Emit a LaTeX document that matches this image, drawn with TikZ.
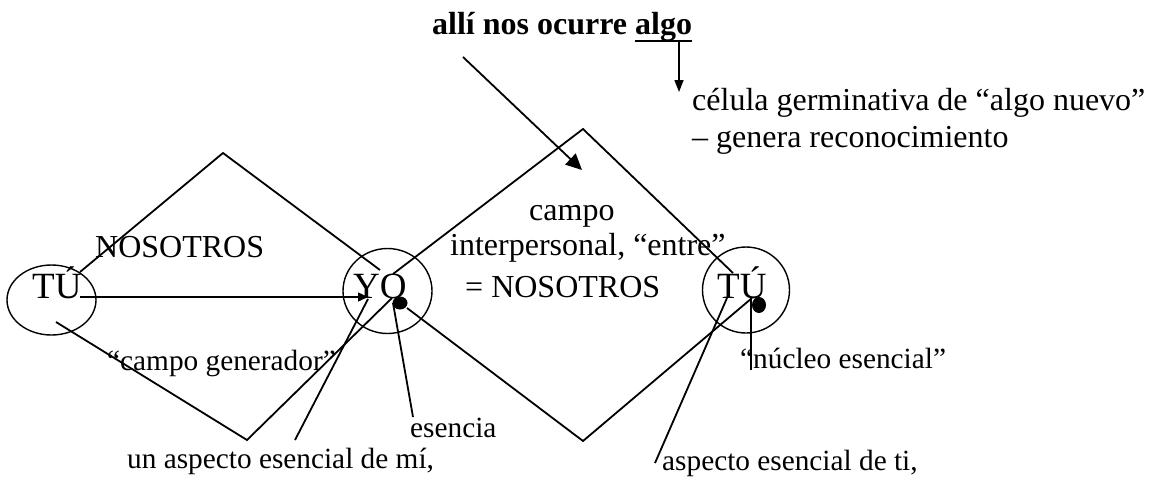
\documentclass[tikz,border=0pt]{standalone}
\usepackage{fontspec}
\setmainfont{Liberation Serif}
\usetikzlibrary{arrows.meta,shapes.geometric}
\newcommand\fA{\fontsize{32}{38}\selectfont}
\newcommand\fB{\fontsize{29.3}{35}\selectfont}
\newcommand\fC{\fontsize{37}{44}\selectfont}
\begin{document}
\begin{tikzpicture}[x=1pt,y=-1pt,
  ln/.style={line width=1.8pt},
  ring/.style={draw,ellipse,line width=1.4pt,inner sep=0pt},
  dotn/.style={fill,ellipse,inner sep=0pt,minimum width=15pt,minimum height=13pt},
  txt/.style={anchor=base west,inner sep=0pt,font=\fA},
  sml/.style={anchor=base west,inner sep=0pt,font=\fB},
  big/.style={anchor=base west,inner sep=0pt,font=\fC},
  arr/.style={-{Triangle[length=10pt,width=9pt]},line width=1.4pt},
  bigarr/.style={-{Triangle[length=16pt,width=15pt]},line width=1.8pt},
]
\useasboundingbox (0,0) rectangle (1151,477);

% circles
\node[ring,minimum width=89pt,minimum height=70pt] (tu1) at (51.5,300) {};
\node[ring,minimum width=89pt,minimum height=85pt] (yo) at (387.5,291) {};
\node[ring,minimum width=87pt,minimum height=86pt] (tu2) at (746,290) {};

% circle texts
\node[big] (tuL) at (32,298) {TÚ};
\node[big] (yoL) at (353,298) {YO};
\node[big] (tuR) at (717,298) {TÚ};

% dots
\node[dotn] (dyo) at (400,303) {};
\node[dotn,minimum width=14pt,minimum height=16pt] (dtu) at (759,305) {};

% diamond corners
\coordinate (a1) at (80,272);
\coordinate (a2) at (223,153);
\coordinate (a3) at (380,270);
\coordinate (a4) at (56,322);
\coordinate (a5) at (247,440);
\coordinate (a6) at (392,298);
\coordinate (b1) at (393,274);
\coordinate (b2) at (583,129);
\coordinate (b3) at (733,273);
\coordinate (b4) at (407,308);
\coordinate (b5) at (583,441);
\coordinate (b6) at (752,298);

\draw[ln] (a1) -- (a2) -- (a3);
\draw[ln] (a4) -- (a5) -- (a6);
\draw[ln] (b1) -- (b2) -- (b3);
\draw[ln] (b4) -- (b5) -- (b6);

% pointers
\coordinate (p1) at (80,297);
\coordinate (p2) at (368,297);
\draw[arr] (p1) -- (p2);

\coordinate (q1) at (295,440);
\coordinate (q2) at (368,299);
\draw[ln] (q1) -- (q2);

\coordinate (e1) at (393,303);
\coordinate (e2) at (413,417);
\draw[ln] (e1) -- (e2);

\coordinate (t1) at (655,463);
\coordinate (t2) at (727,298);
\draw[ln] (t1) -- (t2);

\coordinate (n1) at (751,298);
\coordinate (n2) at (751,370);
\draw[ln] (n1) -- (n2);

% top
\node[anchor=base west,inner sep=0pt,font=\fA\bfseries] (title) at (432,34) {allí nos ocurre algo};
\coordinate (u1) at (635,41);
\coordinate (u2) at (692,41);
\draw[line width=2.6pt] (u1) -- (u2);
\coordinate (d1) at (679,41);
\coordinate (d2) at (679,92);
\draw[-{Triangle[length=12pt,width=9pt]},line width=1.4pt] (d1) -- (d2);

\coordinate (l1) at (463,57);
\coordinate (l2) at (582,170);
\draw[bigarr] (l1) -- (l2);

% texts
\node[txt] (cel) at (692,110) {célula germinativa de “algo nuevo”};
\node[txt] (gen) at (692,147) {– genera reconocimiento};
\node[txt] (campo) at (529,220) {campo};
\node[txt] (inter) at (450,255) {interpersonal, “entre”};
\node[txt] (eqnos) at (465,297) {= NOSOTROS};
\node[txt] (nos) at (95,257) {NOSOTROS};
\node[sml] (cgen) at (107,370) {“campo generador”};
\node[sml] (nuc) at (740,368) {“núcleo esencial”};
\node[sml] (esen) at (410,437) {esencia};
\node[sml] (unasp) at (127,468) {un aspecto esencial de mí,};
\node[sml] (aspti) at (662,470) {aspecto esencial de ti,};
\end{tikzpicture}
\end{document}
